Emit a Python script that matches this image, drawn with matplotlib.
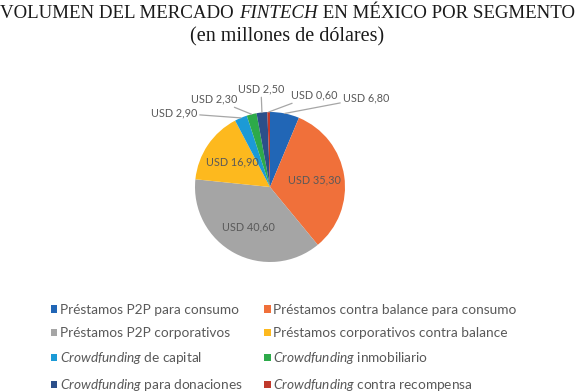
import matplotlib
matplotlib.use("Agg")
import numpy as np
import matplotlib.pyplot as plt

# data
segments = [
    "Préstamos P2P para consumo",
    "Préstamos contra balance para consumo",
    "Préstamos P2P corporativos",
    "Préstamos corporativos contra balance",
    r"$\it{Crowdfunding}$ de capital",
    r"$\it{Crowdfunding}$ inmobiliario",
    r"$\it{Crowdfunding}$ para donaciones",
    r"$\it{Crowdfunding}$ contra recompensa",
]
values = [6.8, 35.3, 40.6, 16.9, 2.9, 2.3, 2.5, 0.6]
colors = ["#2166B6", "#F0703A", "#A5A5A5", "#FDB91E",
          "#1C9AD6", "#2DAA4A", "#2B4F8A", "#C0392B"]

plt.rcParams["font.family"] = ["Lato", "DejaVu Sans"]
plt.rcParams["mathtext.fontset"] = "custom"
plt.rcParams["mathtext.rm"] = "Lato"
plt.rcParams["mathtext.it"] = "Lato:italic"

W, H = 575, 392
fig = plt.figure(figsize=(W / 100, H / 100), dpi=100)
fig.patch.set_facecolor("white")

# pie centre and radius in pixels
cx, cy, R = 270, 187, 75
half = 2 * R
ax = fig.add_axes([(cx - half) / W, (H - cy - half) / H, 2 * half / W, 2 * half / H])

wedges, _ = ax.pie(values, colors=colors, startangle=90, counterclock=False,
                   wedgeprops={"linewidth": 0})
ax.set_xlim(-2, 2)
ax.set_ylim(-2, 2)
ax.axis("off")


def px(x, y):
    # pixel position -> data coords
    return (x - cx) / R, -(y - cy) / R


labels = ["USD " + f"{v:.2f}".replace(".", ",") for v in values]
label_color = "#595959"
line_color = "#A6A6A6"
lsize = 7.8

# inside labels
for i in [1, 2, 3]:
    w = wedges[i]
    ang = np.deg2rad((w.theta1 + w.theta2) / 2)
    ax.text(0.6 * np.cos(ang), 0.6 * np.sin(ang), labels[i], ha="center", va="center",
            fontsize=lsize, color=label_color)

# outside labels: (index, text pixel pos, ha)
outside = [(0, (343, 98), "left"), (7, (291, 95), "left"), (6, (261, 89), "center"),
           (5, (214, 99), "center"), (4, (197, 113), "right")]
for i, pos, ha in outside:
    w = wedges[i]
    ang = np.deg2rad((w.theta1 + w.theta2) / 2)
    ax.annotate(labels[i], xy=(np.cos(ang), np.sin(ang)), xytext=px(*pos),
                ha=ha, va="center", fontsize=lsize, color=label_color,
                arrowprops=dict(arrowstyle="-", color=line_color, lw=0.9,
                                shrinkA=0, shrinkB=0))

# legend, filled row by row (matplotlib fills columns first)
order = [0, 2, 4, 6, 1, 3, 5, 7]
leg = fig.legend([wedges[i] for i in order], [segments[i] for i in order], ncol=2,
                 loc="upper left", bbox_to_anchor=(51 / W, 1 - 304 / H), frameon=False,
                 fontsize=9.8, handlelength=0.45, handleheight=0.45,
                 handletextpad=0.2, columnspacing=1.6, labelspacing=0.82,
                 borderpad=0, borderaxespad=0)
for t in leg.get_texts():
    t.set_color(label_color)

# title with italic word, scaled to fill the width
serif = "Liberation Serif"
parts = [("VOLUMEN DEL MERCADO ", "normal"), ("FINTECH", "italic"),
         (" EN MÉXICO POR SEGMENTO", "normal")]
renderer = fig.canvas.get_renderer()
size = 14.5
texts = []
for s, style in parts:
    t = fig.text(0, 1 - 14 / H, s, family=serif, style=style, fontsize=size,
                 va="center", ha="left", color="#1a1a1a")
    texts.append(t)
total = sum(t.get_window_extent(renderer).width for t in texts)
size = size * 574 / total
for t in texts:
    t.set_fontsize(size)
widths = [t.get_window_extent(renderer).width for t in texts]
x0 = (W - sum(widths)) / 2
for t, wdt in zip(texts, widths):
    t.set_x(x0 / W)
    x0 += wdt
fig.text(0.5, 1 - 37 / H, "(en millones de dólares)", family=serif, fontsize=14.5,
         ha="center", va="center", color="#1a1a1a")

fig.savefig("out.png", dpi=100)
